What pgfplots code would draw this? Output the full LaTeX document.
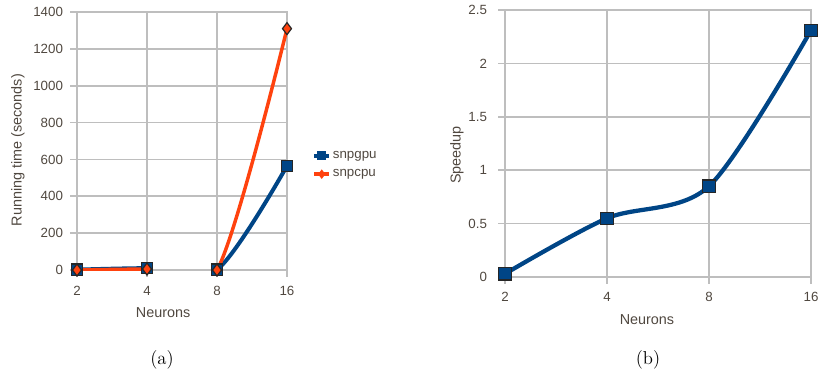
\documentclass[border=0pt]{standalone}
\usepackage{fontspec}
\usepackage{pgfplots}
\pgfplotsset{compat=1.18}
\newfontfamily\lsans{Liberation Sans}
\definecolor{gpu}{HTML}{004586}
\definecolor{cpu}{HTML}{FF420E}
\definecolor{txt}{RGB}{80,72,64}
\definecolor{gridc}{RGB}{190,190,190}
\pgfplotsset{
  lo/.style={
    scale only axis,
    anchor=south west,
    axis line style={draw=gridc, line width=1.2pt},
    grid=major,
    grid style={draw=gridc, line width=1.2pt},
    major tick style={draw=gridc, line width=1.2pt},
    major tick length=5pt,
    tick align=outside,
    xtick pos=bottom, ytick pos=left,
    xmin=0, xmax=3,
    xtick={0,1,2,3}, xticklabels={2,4,8,16},
    /pgf/number format/assume math mode=true,
    /pgf/number format/1000 sep={},
    tick label style={font=\lsans\fontsize{10}{12}\selectfont, text=txt},
    label style={font=\lsans\fontsize{10.8}{13}\selectfont, text=txt},
    yticklabel style={anchor=east},
    xlabel={Neurons},
  },
  gline/.style={color=gpu, line width=3pt, smooth, no marks},
  cline/.style={color=cpu, line width=2.6pt, smooth, no marks},
  gmark/.style={only marks, mark=square*, mark size=4.2pt, mark options={fill=gpu, draw=black!85, line width=0.9pt}},
  cmark/.style={only marks, mark=diamond*, mark size=4.5pt, mark options={fill=cpu, draw=black!85, line width=0.9pt}},
}
\begin{document}
\begin{tikzpicture}
\useasboundingbox (0,0) rectangle (614.25pt,282pt);
% ---------------- (a) ----------------
\begin{axis}[lo,
  at={(57.75pt,79.5pt)},
  width=157.5pt, height=193.5pt,
  ymin=0, ymax=1400, ytick={0,200,...,1400},
  ylabel={Running time (seconds)},
  ylabel style={at={(axis description cs:-0.281,0.465)}, anchor=center},
  xlabel style={at={(axis description cs:0.41,-0.167)}, anchor=center},
  xticklabel style={anchor=center, yshift=-11pt},
  yticklabel style={xshift=-2pt},
  legend style={at={(1.1,0.407)}, anchor=west, draw=none, fill=none,
    font=\lsans\fontsize{10}{12}\selectfont, text=txt, row sep=4.5pt,
    nodes={inner sep=1.2pt}},
  legend cell align=left,
  legend image code/.code={%
    \draw[#1,only marks=false] (0pt,0pt) -- (11.25pt,0pt);
    \draw[#1,mark repeat=2,mark phase=2,draw opacity=0] plot coordinates {(0pt,0pt) (5.6pt,0pt) (11.25pt,0pt)};},
]
\addlegendimage{color=gpu, line width=3pt, mark=square*, mark size=3.4pt, mark options={fill=gpu, draw=black!85, line width=0.8pt}}
\addlegendentry{snpgpu}
\addlegendimage{color=cpu, line width=2.6pt, mark=diamond*, mark size=3.6pt, mark options={fill=cpu, draw=black!85, line width=0.8pt}}
\addlegendentry{snpcpu}
\begin{scope}
\clip (axis cs:-1,-300) rectangle (axis cs:1,2000);
\addplot[gline, forget plot] coordinates {(0,2) (1,10) (2,2) (3,565)};
\addplot[cline, forget plot] coordinates {(0,0) (1,5) (2,0) (3,1310)};
\end{scope}
\begin{scope}
\clip (axis cs:2,-300) rectangle (axis cs:4,2000);
\addplot[gline, forget plot] coordinates {(0,2) (1,10) (2,2) (3,565)};
\addplot[cline, forget plot] coordinates {(0,0) (1,5) (2,0) (3,1310)};
\end{scope}
\addplot[gmark, forget plot] coordinates {(0,2) (1,10) (2,2) (3,565)};
\addplot[cmark, forget plot] coordinates {(0,0) (1,5) (2,0) (3,1310)};
\end{axis}
% ---------------- (b) ----------------
\begin{axis}[lo,
  at={(378.75pt,74.25pt)},
  width=229.5pt, height=200.25pt,
  ymin=0, ymax=2.5, ytick={0,0.5,...,2.5},
  ylabel={Speedup},
  ylabel style={at={(axis description cs:-0.157,0.457)}, anchor=center},
  xlabel style={at={(axis description cs:0.464,-0.161)}, anchor=center},
  xticklabel style={anchor=center, yshift=-10pt},
  yticklabel style={xshift=-5pt},
]
\addplot[gline, line width=3.2pt] coordinates {(0,0.03) (1,0.55) (2,0.85) (3,2.31)};
\addplot[gmark, mark size=4.6pt] coordinates {(0,0.03) (1,0.55) (2,0.85) (3,2.31)};
\end{axis}
% captions
\node[anchor=base, font=\fontsize{14}{16}\selectfont] at (121.5pt,9pt) {(a)};
\node[anchor=base, font=\fontsize{14}{16}\selectfont] at (486pt,9pt) {(b)};
\end{tikzpicture}
\end{document}
